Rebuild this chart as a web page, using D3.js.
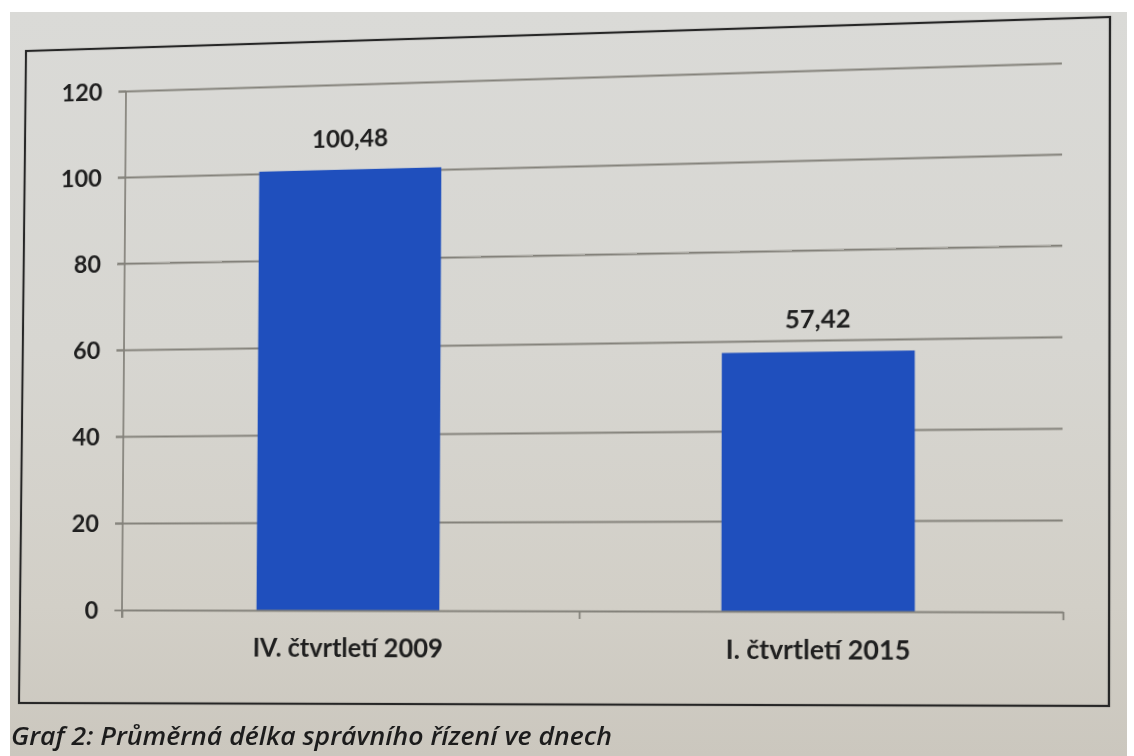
<!DOCTYPE html>
<html>
<head>
<meta charset="utf-8">
<script src="https://cdn.jsdelivr.net/npm/d3@7"></script>
<style>
  html, body { margin: 0; padding: 0; background: #ffffff; width: 1134px; height: 756px; overflow: hidden; }
  #paper {
    position: absolute; left: 10px; top: 12px; width: 1117px; height: 744px;
    background: linear-gradient(180deg, #dadad7 0%, #d7d6d1 45%, #d2cfc7 80%, #cbc7be 100%);
  }
  svg.layer { position: absolute; left: 0; top: 0; transform-origin: 0 0 0; overflow: visible; }
</style>
</head>
<body>
<div id="paper"></div>
<svg id="frameLayer" class="layer" width="1134" height="756"></svg>
<svg id="chart" class="layer" width="1134" height="756"></svg>
<svg id="captionLayer" class="layer" width="1134" height="756"></svg>
<script>
// Average length of administrative proceedings (days)
const categories = ["IV. čtvrtletí 2009", "I. čtvrtletí 2015"];
const values = [100.48, 57.42];
const yTicks = [0, 20, 40, 60, 80, 100, 120];
const caption = "Graf 2: Průměrná délka správního řízení ve dnech";

// Flat page layout
const frame = { x0: 23, y0: 33, x1: 1110, y1: 705 };
const plot = { left: 124, right: 1062, top: 77, bottom: 611 };
const W = plot.right - plot.left;
const H = plot.bottom - plot.top;

const ink = "#1f1f1f";
const gridColor = "#84827b";
const barColor = "#1f4fbd";
const font = "Lato, 'Open Sans', sans-serif";

const czech = d3.formatLocale({ decimal: ",", thousands: " ", grouping: [3], currency: ["", " Kč"] });
const fmt = czech.format(".2f");

// The page sits at a slight angle: each layer gets a projective mapping
function solve(A, b) {
  const n = b.length;
  const M = A.map((r, i) => r.concat([b[i]]));
  for (let c = 0; c < n; c++) {
    let p = c;
    for (let r = c + 1; r < n; r++) if (Math.abs(M[r][c]) > Math.abs(M[p][c])) p = r;
    [M[c], M[p]] = [M[p], M[c]];
    for (let r = 0; r < n; r++) {
      if (r === c) continue;
      const f = M[r][c] / M[c][c];
      for (let k = c; k <= n; k++) M[r][k] -= f * M[c][k];
    }
  }
  return M.map((r, i) => r[n] / r[i]);
}
function project(sel, box, quad) {
  const src = [[box.x0, box.y0], [box.x1, box.y0], [box.x0, box.y1], [box.x1, box.y1]];
  const A = [], rhs = [];
  for (let i = 0; i < 4; i++) {
    const [x, y] = src[i], [X, Y] = quad[i];
    A.push([x, y, 1, 0, 0, 0, -X * x, -X * y]); rhs.push(X);
    A.push([0, 0, 0, x, y, 1, -Y * x, -Y * y]); rhs.push(Y);
  }
  const [a, b, c, d, e, f, g, h] = solve(A, rhs);
  sel.style("transform", `matrix3d(${a},${d},0,${g},${b},${e},0,${h},0,0,1,0,${c},${f},0,1)`);
}

// Chart frame
const frameSvg = d3.select("#frameLayer");
project(frameSvg, frame, [[26, 51], [1110, 17], [19, 703], [1109, 706]]);
frameSvg.append("rect")
  .attr("x", frame.x0).attr("y", frame.y0)
  .attr("width", frame.x1 - frame.x0).attr("height", frame.y1 - frame.y0)
  .attr("fill", "none").attr("stroke", "#262626").attr("stroke-width", 2.2);

// Plot
const svg = d3.select("#chart");
project(svg, { x0: plot.left, y0: plot.top, x1: plot.right, y1: plot.bottom },
  [[126, 91], [1062, 63], [122, 610], [1063, 612]]);

const x = d3.scaleBand().domain(categories).range([0, W]).paddingInner(0.6).paddingOuter(0.3);
const y = d3.scaleLinear().domain([0, 120]).range([H, 0]);
const xb = d3.scaleLinear().domain([0, categories.length]).range([0, W]);

const g0 = svg.append("g").attr("transform", `translate(${plot.left},${plot.top})`);

// Horizontal gridlines (running left through the tick marks)
const grid = g0.append("g").attr("transform", "translate(-8,0)")
  .call(d3.axisLeft(y).tickValues(yTicks.filter(v => v > 0)).tickSize(-(W + 8)).tickFormat(""));
grid.select(".domain").remove();
grid.selectAll("line").attr("stroke", gridColor).attr("stroke-width", 1.8);

// Bars
g0.selectAll("rect.bar").data(values).join("rect")
  .attr("class", "bar")
  .attr("x", (v, i) => x(categories[i]))
  .attr("width", x.bandwidth())
  .attr("y", v => y(v))
  .attr("height", v => y(0) - y(v))
  .attr("fill", barColor);

// Value labels
g0.selectAll("text.val").data(values).join("text")
  .attr("class", "val")
  .attr("x", (v, i) => x(categories[i]) + x.bandwidth() / 2)
  .attr("y", v => y(v) - 23)
  .attr("text-anchor", "middle")
  .attr("font-family", font)
  .attr("font-weight", 700)
  .attr("font-size", 25)
  .attr("fill", ink)
  .text(v => fmt(v));

// Y axis
const yAxis = g0.append("g")
  .call(d3.axisLeft(y).tickValues(yTicks).tickSize(8).tickSizeOuter(0).tickPadding(17));
yAxis.select(".domain").attr("stroke", gridColor).attr("stroke-width", 1.8)
  .attr("d", `M0,0V${H + 8}`);
yAxis.selectAll("line").attr("stroke", gridColor).attr("stroke-width", 1.8);
yAxis.selectAll("text")
  .attr("font-family", font)
  .attr("font-weight", 700).attr("font-size", 25).attr("fill", ink);

// X axis baseline with ticks at category boundaries
const xLine = g0.append("g").attr("transform", `translate(0,${H})`)
  .call(d3.axisBottom(xb).tickValues(d3.range(categories.length + 1)).tickSize(8).tickSizeOuter(0).tickFormat(""));
xLine.select(".domain").attr("stroke", gridColor).attr("stroke-width", 1.8);
xLine.selectAll("line").attr("stroke", gridColor).attr("stroke-width", 1.8);

// Category labels
const xAxis = g0.append("g").attr("transform", `translate(0,${H})`)
  .call(d3.axisBottom(x).tickSize(0).tickPadding(0));
xAxis.select(".domain").remove();
xAxis.selectAll("text")
  .attr("y", 47).attr("dy", 0)
  .attr("font-family", font)
  .attr("font-weight", 700).attr("font-size", 26).attr("fill", ink);

// Caption under the frame
d3.select("#captionLayer").append("text")
  .attr("x", 11).attr("y", 745)
  .attr("font-family", "'Open Sans', 'Noto Sans', sans-serif")
  .attr("font-style", "italic")
  .attr("font-weight", 600)
  .attr("font-size", 25)
  .attr("fill", "#1c1c1c")
  .attr("textLength", 601)
  .attr("lengthAdjust", "spacingAndGlyphs")
  .text(caption);
</script>
</body>
</html>
